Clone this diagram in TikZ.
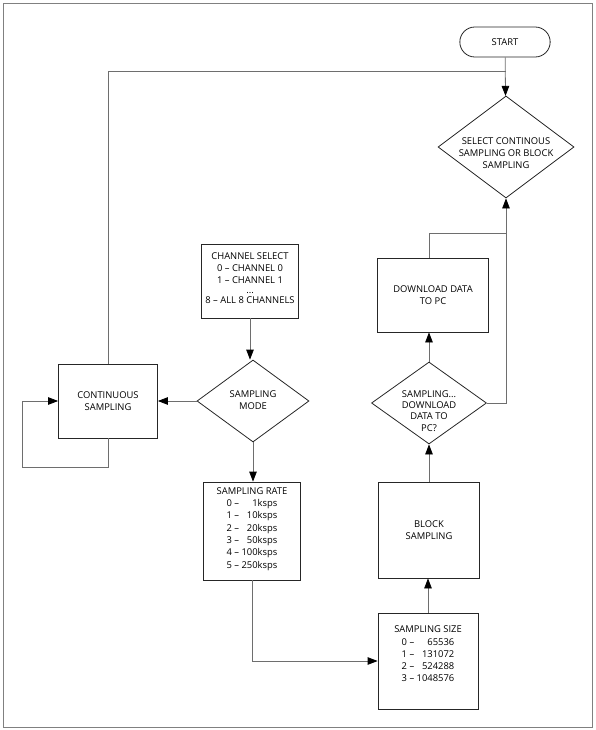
\documentclass[tikz,border=0pt]{standalone}
\usepackage{fontspec}
\setmainfont{Open Sans}
\usetikzlibrary{shapes.geometric,shapes.misc,arrows.meta}
\definecolor{linegray}{HTML}{6E6E6E}
\definecolor{framegray}{HTML}{808080}
\begin{document}
\begin{tikzpicture}[x=1pt, y=-1pt, font=\fontsize{9.4}{12.3}\selectfont]
        \tikzstyle{block}=[draw=black!85, thick, rectangle, align=center, inner sep=0pt]
        \tikzstyle{decision}=[draw=black!85, thick, diamond, inner sep=0pt]
        \tikzstyle{terminal}=[draw=black!85, thick, rounded rectangle, minimum width=97pt, minimum height=30pt]
        \tikzstyle{caption}=[align=center, inner sep=0pt]
        \tikzstyle{arrow}=[draw=linegray, thick, -{Triangle[length=10pt,width=7.5pt,color=black]}]
        \tikzstyle{line}=[draw=linegray, thick]

        \useasboundingbox (0,0) rectangle (595,730);
        \draw[framegray, thick] (3,3) rectangle (592,727);

        \node[terminal] (start) at (505,42) {START};
        \node[decision, minimum width=136pt, minimum height=102pt] (select) at (506,147) {};
        \node[caption] (select_t) at (506,153) {SELECT CONTINOUS\\SAMPLING OR BLOCK\\SAMPLING};

        \node[block, minimum width=97pt, minimum height=74pt] (channel) at (250,281) {};
        \node[caption] (channel_t) at (250,278) {CHANNEL SELECT\\0 -- CHANNEL 0\\1 -- CHANNEL 1\\[-3pt]...\\[-2pt]8 -- ALL 8 CHANNELS};

        \node[decision, minimum width=112pt, minimum height=82pt] (mode) at (253,401) {};
        \node[caption] (mode_t) at (253,400) {SAMPLING\\MODE};

        \node[block, minimum width=99pt, minimum height=74pt] (continuous) at (108,401) {CONTINUOUS\\SAMPLING};

        \node[block, minimum width=97pt, minimum height=98pt] (rate) at (252,531) {};
        \node[caption] (rate_t) at (252,529) {SAMPLING RATE\\0 -- \phantom{00}1ksps\\1 -- \phantom{0}10ksps\\2 -- \phantom{0}20ksps\\3 -- \phantom{0}50ksps\\4 -- 100ksps\\5 -- 250ksps};

        \node[block, minimum width=100pt, minimum height=96pt] (size) at (428,661) {};
        \node[caption] (size_t) at (428,654) {SAMPLING SIZE\\0 -- \phantom{00}65536\\1 -- \phantom{0}131072\\2 -- \phantom{0}524288\\3 -- 1048576};

        \node[block, minimum width=101pt, minimum height=96pt] (sampling) at (429,530) {BLOCK\\SAMPLING};

        \node[decision, minimum width=115pt, minimum height=82pt] (query) at (429,403) {};
        \node[caption] (query_t) at (429,411) {SAMPLING...\\[-1pt]DOWNLOAD\\[-1pt]DATA TO\\[-1pt]PC?};

        \node[block, minimum width=111pt, minimum height=74pt] (download) at (433,295) {DOWNLOAD DATA\\TO PC};

        \coordinate (join) at (506,71);
        \coordinate (merge) at (506,233);
        \coordinate (loop) at (22,467);

        \draw[arrow] (start) -- (select);
        \draw[line] (continuous) |- (join);
        \draw[arrow] (channel) -- (channel |- mode.north);
        \draw[arrow] (mode) -- (continuous);
        \draw[arrow] (continuous.south) |- (loop) |- (continuous.west);
        \draw[arrow] (mode) -- (mode |- rate.north);
        \draw[arrow] (rate.south) |- (size.west);
        \draw[arrow] (size) -- (size |- sampling.south);
        \draw[arrow] (sampling) -- (sampling |- query.south);
        \draw[arrow] (query.north) -- (query.north |- download.south);
        \draw[line] (query.north |- download.north) |- (merge);
        \draw[arrow] (query.east) -| (select.south);
    \end{tikzpicture}
\end{document}
